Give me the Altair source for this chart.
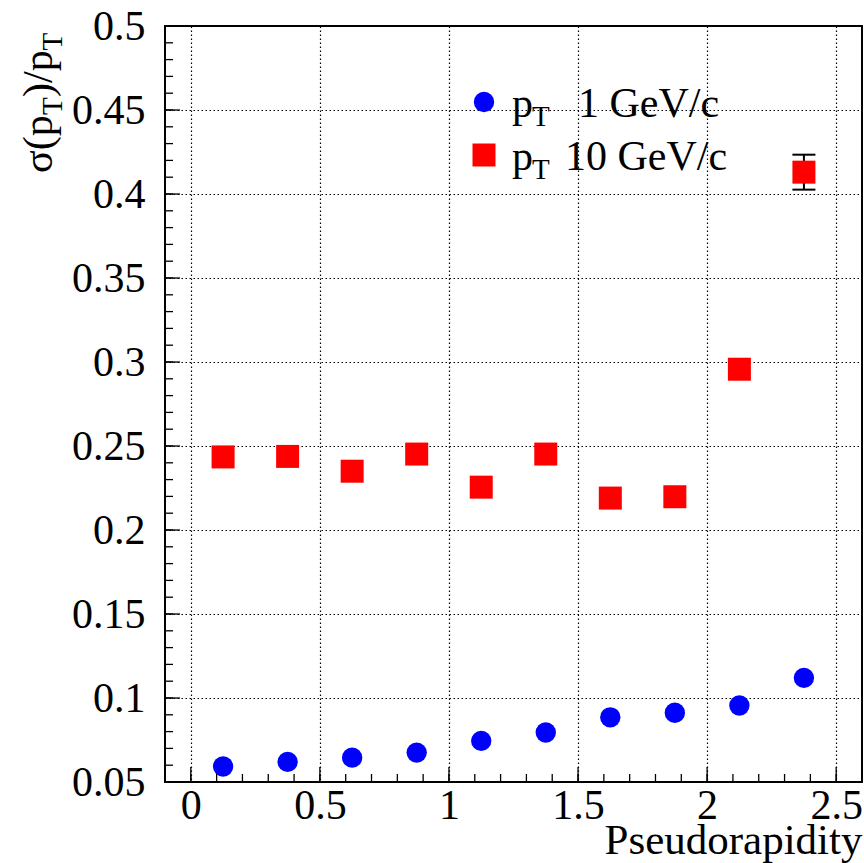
import altair as alt
import pandas as pd
import numpy as np

# ---------------- data ----------------
eta = [0.125, 0.375, 0.625, 0.875, 1.125, 1.375, 1.625, 1.875, 2.125, 2.375]
res_pt1 = [0.0592, 0.0620, 0.0645, 0.0675, 0.0745, 0.0795, 0.0885, 0.0912, 0.0955, 0.1120]
res_pt10 = [0.2435, 0.2438, 0.2350, 0.2452, 0.2255, 0.2452, 0.2190, 0.2198, 0.2957, 0.4130]
err_pt10 = [0, 0, 0, 0, 0, 0, 0, 0, 0, 0.0104]

x_major = [0, 0.5, 1, 1.5, 2, 2.5]
y_major = [0.05, 0.1, 0.15, 0.2, 0.25, 0.3, 0.35, 0.4, 0.45, 0.5]
x_minor = [float(v) for v in np.round(np.arange(-0.1, 2.61, 0.1), 2)]
y_minor = [float(v) for v in np.round(np.arange(0.05, 0.501, 0.01), 2)]

X_DOMAIN = [-0.1, 2.6]
Y_DOMAIN = [0.05, 0.5]
W, H = 697, 756
FONT = "Liberation Serif"
FS = 42

xs = alt.Scale(domain=X_DOMAIN, nice=False, zero=False)
ys = alt.Scale(domain=Y_DOMAIN, nice=False, zero=False)

df1 = pd.DataFrame({"eta": eta, "res": res_pt1})
df10 = pd.DataFrame({"eta": eta, "res": res_pt10, "err": err_pt10})
df10["lo"] = df10["res"] - df10["err"]
df10["hi"] = df10["res"] + df10["err"]
dferr = df10[df10["err"] > 0]

xaxis = alt.Axis(values=x_major, format="~g", grid=True, gridDash=[1.5, 2.5],
                 gridColor="black", gridWidth=1.2, gridOpacity=1, ticks=False,
                 domain=False, labelFont=FONT, labelFontSize=FS, labelColor="black",
                 labelPadding=3, labelFlush=False, labelOverlap=False,
                 title="Pseudorapidity", titleFont=FONT, titleFontSize=43,
                 titleFontWeight="normal", titleColor="black",
                 titleAlign="right", titleBaseline="alphabetic",
                 titleX=W, titleY=71)
yaxis = alt.Axis(values=y_major, format="~g", grid=True, gridDash=[1.5, 2.5],
                 gridColor="black", gridWidth=1.2, gridOpacity=1, ticks=False,
                 domain=False, labelFont=FONT, labelFontSize=FS, labelColor="black",
                 labelPadding=20, labelFlush=False, labelOverlap=False, title="")

def X(field):
    return alt.X(field, scale=xs, axis=xaxis)

def Y(field):
    return alt.Y(field, scale=ys, axis=yaxis)

pts1 = alt.Chart(df1).mark_point(shape="circle", filled=True, size=415,
                                 color="#0000ff", opacity=1).encode(
    x=X("eta:Q"), y=Y("res:Q"))

err_line = alt.Chart(dferr).mark_rule(color="black", strokeWidth=2).encode(
    x=X("eta:Q"), y=Y("lo:Q"), y2="hi:Q")
cap_lo = alt.Chart(dferr).mark_tick(orient="horizontal", size=23, thickness=2,
                                    color="black", opacity=1).encode(
    x=X("eta:Q"), y=Y("lo:Q"))
cap_hi = alt.Chart(dferr).mark_tick(orient="horizontal", size=23, thickness=2,
                                    color="black", opacity=1).encode(
    x=X("eta:Q"), y=Y("hi:Q"))

pts10 = alt.Chart(df10).mark_point(shape="square", filled=True, size=529,
                                   color="#ff0000", opacity=1).encode(
    x=X("eta:Q"), y=Y("res:Q"))

# inside ticks (ROOT style)
def yticks(vals, length):
    return alt.Chart(pd.DataFrame({"v": vals})).mark_rule(color="black", strokeWidth=1.3).encode(
        y=Y("v:Q"), x=alt.value(0), x2=alt.value(length))

def xticks(vals, length):
    return alt.Chart(pd.DataFrame({"v": vals})).mark_rule(color="black", strokeWidth=1.3).encode(
        x=X("v:Q"), y=alt.value(H), y2=alt.value(H - length))

def label(s, x, y, size=FS, angle=0):
    return alt.Chart(pd.DataFrame({"t": [s]})).mark_text(
        font=FONT, fontSize=size, color="black", align="left",
        baseline="alphabetic", angle=angle).encode(
        text="t:N", x=alt.value(x), y=alt.value(y))

one = pd.DataFrame({"k": [0]})
leg_c = alt.Chart(one).mark_point(shape="circle", filled=True, size=415,
                                  color="#0000ff", opacity=1).encode(
    x=alt.value(319), y=alt.value(76))
leg_s = alt.Chart(one).mark_point(shape="square", filled=True, size=529,
                                  color="#ff0000", opacity=1).encode(
    x=alt.value(319), y=alt.value(129))

SUB = 29
legend_txt = [
    label("p", 347, 91), label("T", 367, 100, SUB), label("1 GeV/c", 413, 91),
    label("p", 347, 144), label("T", 367, 153, SUB), label("10 GeV/c", 400, 144),
]

# y title sigma(p_T)/p_T, rotated
ytitle = [
    label("σ(p", -113, 147, FS, 270),
    label("T", -103, 89, SUB, 270),
    label(")/p", -113, 71, FS, 270),
    label("T", -103, 24.5, SUB, 270),
]

chart = alt.layer(
    pts1,
    yticks(y_minor, 8), yticks(y_major, 15),
    xticks(x_minor, 8), xticks(x_major, 15),
    err_line, cap_lo, cap_hi, pts10,
    leg_c, leg_s, *legend_txt, *ytitle,
).properties(
    width=W, height=H,
    padding={"left": 165, "top": 26, "right": 2, "bottom": 81},
    autosize=alt.AutoSizeParams(type="none"),
    background="white",
).configure_view(stroke="black", strokeWidth=2)

chart.save("out.html", embed_options={"renderer": "svg", "actions": False})
